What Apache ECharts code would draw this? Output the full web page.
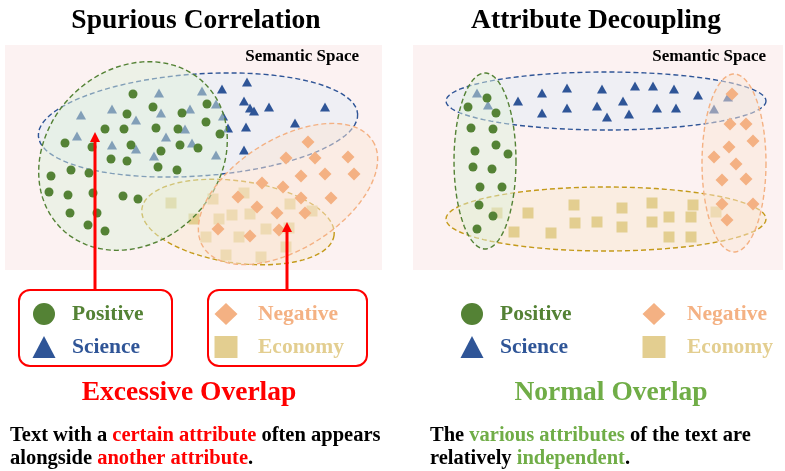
<!DOCTYPE html>
<html>
<head>
<meta charset="utf-8">
<script src="https://cdn.jsdelivr.net/npm/echarts/dist/echarts.min.js"></script>
<style>
html, body { margin: 0; padding: 0; background: #fff; }
#chart { width: 785px; height: 471px; }
</style>
</head>
<body>
<div id="chart"></div>
<script>
// ---- data (coordinates in each panel's "semantic space") ----
var leftPositive = [[133,94],[153,107],[127,114],[182,113],[207,104],[206,122],[105,129],[124,129],[156,128],[178,129],[220,134],[65,143],[92,147],[131,145],[161,151],[180,145],[198,148],[111,159],[127,161],[158,167],[177,170],[51,176],[71,170],[89,173],[49,192],[68,195],[93,193],[123,196],[138,199],[70,213],[97,213],[88,225],[105,231]];
var leftScience = [[159,93],[202,91],[81,115],[112,109],[161,113],[136,120],[190,109],[216,104],[223,116],[77,136],[112,145],[136,149],[166,137],[185,129],[192,143],[154,156],[216,155],[222,89],[247,82],[244,101],[250,108],[254,111],[269,107],[325,107],[228,128],[246,127],[295,123],[244,150]];
var leftNegative = [[308,142],[286,158],[315,158],[348,157],[301,176],[325,174],[354,174],[262,183],[283,187],[238,197],[301,198],[331,198],[257,207],[277,213],[305,213],[218,229],[250,236],[279,230]];
var leftEconomy = [[171,203],[213,199],[244,193],[194,219],[219,219],[232,215],[250,214],[290,204],[312,211],[206,237],[239,237],[266,229],[289,228],[226,255],[261,257],[286,247]];

var rightPositive = [[487,98],[468,107],[496,113],[471,128],[493,129],[496,145],[475,151],[508,154],[473,167],[492,169],[480,187],[502,187],[479,205],[493,216],[477,229]];
var rightScience = [[477,93],[488,105],[714,109],[728,97],[518,101],[542,93],[567,88],[602,89],[635,86],[653,86],[674,89],[698,95],[542,113],[567,108],[597,106],[623,101],[607,117],[629,114],[657,108],[676,108]];
var rightNegative = [[732,94],[730,124],[746,124],[753,141],[729,147],[714,157],[736,164],[722,180],[746,179],[722,204],[753,204],[727,220]];
var rightEconomy = [[497,213],[528,213],[514,232],[551,233],[574,205],[575,223],[597,222],[622,208],[622,227],[652,203],[652,222],[669,217],[669,237],[693,205],[691,217],[691,237],[716,212]];

// cluster regions: [cx, cy, rx, ry, rotation deg]
var leftPositiveRegion = [133, 156, 102, 86, -45];
var leftScienceRegion = [198, 125, 160, 51, -4];
var leftNegativeRegion = [288, 194, 100, 55, -32];
var leftEconomyRegion = [238, 222, 97, 41, 8];
var rightPositiveRegion = [485, 161, 31, 88, 0];
var rightScienceRegion = [606, 101, 160, 29, 0];
var rightNegativeRegion = [734, 163, 32, 89, 0];
var rightEconomyRegion = [606, 219, 160, 32, 0];

var categories = ['Positive', 'Science', 'Negative', 'Economy'];

var GREEN = '#548235', BLUE = '#2f5597', ORANGE = '#f4b183', TAN = '#e3ce90';
var serif = '"Liberation Serif", "Times New Roman", serif';

// ellipse drawn as polygon through the axes
function ellipse(fill, stroke) {
    return function (params, api) {
        var cx = api.value(0), cy = api.value(1), rx = api.value(2), ry = api.value(3);
        var a = api.value(4) * Math.PI / 180;
        var pts = [];
        for (var i = 0; i < 90; i++) {
            var t = i / 90 * Math.PI * 2;
            var x = cx + rx * Math.cos(t) * Math.cos(a) - ry * Math.sin(t) * Math.sin(a);
            var y = cy + rx * Math.cos(t) * Math.sin(a) + ry * Math.sin(t) * Math.cos(a);
            pts.push(api.coord([x, y]));
        }
        return {
            type: 'polygon',
            shape: {points: pts},
            style: {fill: fill, stroke: stroke, lineWidth: 1.4, lineDash: [5, 3]}
        };
    };
}

function region(idx, data, fill, stroke, z) {
    return {
        type: 'custom', xAxisIndex: idx, yAxisIndex: idx, silent: true, z: z,
        renderItem: ellipse(fill, stroke), data: [data]
    };
}

function dots(idx, name, data, symbol, size, color, z) {
    return {
        type: 'scatter', name: name, xAxisIndex: idx, yAxisIndex: idx, z: z,
        symbol: symbol, symbolSize: size, data: data, silent: true,
        itemStyle: {color: color, opacity: 1}
    };
}

var series = [];
[
    [0, leftScienceRegion, leftEconomyRegion, leftPositiveRegion, leftNegativeRegion,
        leftScience, leftEconomy, leftPositive, leftNegative],
    [1, rightScienceRegion, rightEconomyRegion, rightPositiveRegion, rightNegativeRegion,
        rightScience, rightEconomy, rightPositive, rightNegative]
].forEach(function (p) {
    var i = p[0];
    series.push(region(i, p[1], 'rgba(223,234,247,0.45)', BLUE, 2));
    series.push(dots(i, 'Science', p[5], 'triangle', [10, 9], BLUE, 3));
    series.push(region(i, p[2], 'rgba(246,229,194,0.35)', '#c49a1a', 4));
    series.push(dots(i, 'Economy', p[6], 'rect', 11, TAN, 5));
    series.push(region(i, p[3], 'rgba(222,240,219,0.48)', GREEN, 6));
    series.push(dots(i, 'Positive', p[7], 'circle', 9, GREEN, 7));
    series.push(region(i, p[4], 'rgba(250,229,213,0.5)', ORANGE, 8));
    series.push(dots(i, 'Negative', p[8], 'diamond', 13, ORANGE, 9));
});

// legend: icon 23px wide, text pushed right with padding
function legendBlock(names, colors, left, gap) {
    return {
        orient: 'vertical', left: left, top: 303, padding: 0,
        itemWidth: 23, itemHeight: 22, itemGap: 11, selectedMode: false,
        textStyle: {fontFamily: serif, fontWeight: 'bold', fontSize: 21.5, padding: [0, 0, 0, gap]},
        data: names.map(function (n, k) {
            return {name: n, textStyle: {color: colors[k]}};
        })
    };
}

function arrow(x, tip) {
    return [
        {type: 'line', z: 100, shape: {x1: x, y1: 290, x2: x, y2: tip + 7},
            style: {stroke: '#ff0000', lineWidth: 3}},
        {type: 'polygon', z: 100, shape: {points: [[x, tip], [x - 5, tip + 10], [x + 5, tip + 10]]},
            style: {fill: '#ff0000'}}
    ];
}

function label(x, y, text, size, color, align) {
    return {
        type: 'text', z: 100, x: x, y: y,
        style: {text: text, font: 'bold ' + size + 'px ' + serif, fill: color,
            align: align, textAlign: align, verticalAlign: 'middle', textVerticalAlign: 'middle'}
    };
}

function para(x, text, hl) {
    var f = 'bold 20.5px ' + serif;
    return {
        type: 'text', z: 100, x: x, y: 424,
        style: {text: text, font: f, fill: '#000', verticalAlign: 'top', textVerticalAlign: 'top',
            rich: {k: {fill: '#000', font: f, lineHeight: 23}, h: {fill: hl, font: f, lineHeight: 23}}}
    };
}

var myChart = echarts.init(document.getElementById('chart'));
myChart.setOption({
    backgroundColor: '#fff',
    animation: false,
    grid: [
        {left: 5, top: 45, width: 377, height: 225, show: true, backgroundColor: '#fcf2f2', borderWidth: 0},
        {left: 413, top: 45, width: 370, height: 225, show: true, backgroundColor: '#fcf2f2', borderWidth: 0}
    ],
    xAxis: [
        {type: 'value', gridIndex: 0, min: 5, max: 382, show: false},
        {type: 'value', gridIndex: 1, min: 413, max: 783, show: false}
    ],
    yAxis: [
        {type: 'value', gridIndex: 0, min: 45, max: 270, inverse: true, show: false},
        {type: 'value', gridIndex: 1, min: 45, max: 270, inverse: true, show: false}
    ],
    legend: [
        legendBlock([categories[0], categories[1]], [GREEN, BLUE], 32.5, 11.5),
        legendBlock([categories[2], categories[3]], [ORANGE, TAN], 214.5, 15.5),
        legendBlock([categories[0], categories[1]], [GREEN, BLUE], 460.5, 11.5),
        legendBlock([categories[2], categories[3]], [ORANGE, TAN], 642.5, 16.5)
    ],
    series: series,
    graphic: [
        label(196, 21, 'Spurious Correlation', 27.5, '#000', 'center'),
        label(596, 21, 'Attribute Decoupling', 27.5, '#000', 'center'),
        label(359, 57, 'Semantic Space', 17, '#000', 'right'),
        label(766, 57, 'Semantic Space', 17, '#000', 'right'),
        {type: 'rect', z: 50, shape: {x: 19, y: 290, width: 153, height: 76, r: 11},
            style: {fill: 'transparent', stroke: '#ff0000', lineWidth: 2}},
        {type: 'rect', z: 50, shape: {x: 208, y: 290, width: 159, height: 76, r: 11},
            style: {fill: 'transparent', stroke: '#ff0000', lineWidth: 2}}
    ].concat(arrow(95, 132), arrow(287, 222), [
        label(189, 393, 'Excessive Overlap', 27.5, '#ff0000', 'center'),
        label(611, 393, 'Normal Overlap', 27.5, '#70ad47', 'center'),
        para(10, '{k|Text with a }{h|certain attribute}{k| often appears}\n{k|alongside }{h|another attribute}{k|.}', '#ff0000'),
        para(430, '{k|The }{h|various attributes}{k| of the text are}\n{k|relatively }{h|independent}{k|.}', '#70ad47')
    ])
});
</script>
</body>
</html>
